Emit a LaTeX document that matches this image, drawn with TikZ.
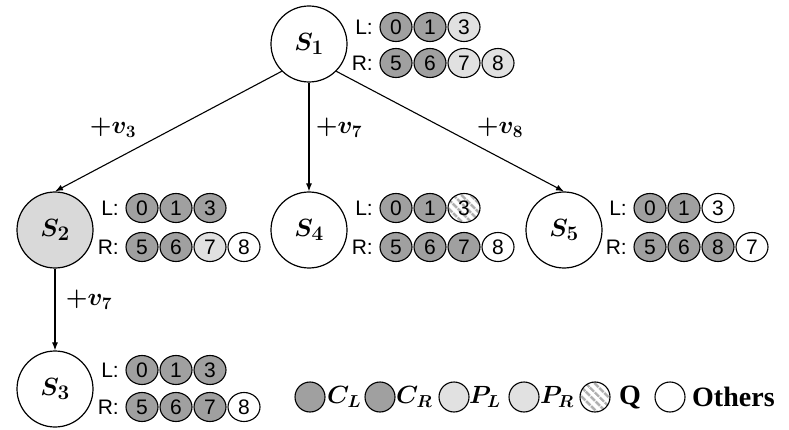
\documentclass[tikz,border=0pt]{standalone}
\usepackage{fontspec}
\usepackage{amsmath,bm}
\setsansfont{Liberation Sans}
\newfontfamily\legserif{Liberation Serif}
\usetikzlibrary{arrows.meta,shapes.geometric,patterns.meta}
\definecolor{cdark}{RGB}{160,160,160}
\definecolor{plight}{RGB}{225,225,225}
\definecolor{sfill}{RGB}{217,217,217}
\definecolor{qline}{RGB}{175,175,175}
\tikzset{
  statenode/.style={circle, draw, line width=1.2pt, minimum size=76pt, inner sep=0pt, font=\fontsize{28}{28}\selectfont},
  ball/.style={ellipse, draw, line width=1.1pt, minimum width=32pt, minimum height=29pt, inner sep=0pt, font=\fontsize{21}{21}\selectfont\sffamily},
  cb/.style={ball, fill=cdark},
  pb/.style={ball, fill=plight},
  ob/.style={ball, fill=white},
  qb/.style={ball, preaction={fill=white}, pattern={Lines[angle=-45,distance=6.5pt,line width=3pt]}, pattern color=qline},
  rowlbl/.style={anchor=east, inner sep=0pt, font=\fontsize{21}{21}\selectfont\sffamily},
  edgelbl/.style={inner sep=0pt, font=\fontsize{26}{26}\selectfont},
  conn/.style={-{Latex[length=8pt,width=6pt]}, line width=1.1pt},
  leg/.style={circle, draw, line width=1.1pt, minimum size=30pt, inner sep=0pt},
  legtxt/.style={anchor=west, inner sep=0pt, font=\fontsize{26}{26}\selectfont},
  legword/.style={anchor=west, inner sep=0pt, font=\fontsize{28}{28}\selectfont\legserif\bfseries}
}
\begin{document}
\begin{tikzpicture}[x=1pt,y=-1pt]
\useasboundingbox (0,0) rectangle (789,430);
% state nodes
\node[statenode] (s1) at (309,44) {$\bm{S_1}$};
\node[statenode, fill=sfill] (s2) at (55,230) {$\bm{S_2}$};
\node[statenode] (s4) at (309,230) {$\bm{S_4}$};
\node[statenode] (s5) at (564,230) {$\bm{S_5}$};
\node[statenode] (s3) at (55,389) {$\bm{S_3}$};
% S1 balls
\node[cb] (a0) at (396,27) {0};
\node[cb] (a1) at (430,27) {1};
\node[pb] (a3) at (464,27) {3};
\node[rowlbl] (aL) at (373,27) {L:};
\node[cb] (a5) at (396,63) {5};
\node[cb] (a6) at (430,63) {6};
\node[pb] (a7) at (464,63) {7};
\node[pb] (a8) at (498,63) {8};
\node[rowlbl] (aR) at (373,63) {R:};
% S2 balls
\node[cb] (b0) at (142,208) {0};
\node[cb] (b1) at (176,208) {1};
\node[cb] (b3) at (210,208) {3};
\node[rowlbl] (bL) at (119,208) {L:};
\node[cb] (b5) at (142,247) {5};
\node[cb] (b6) at (176,247) {6};
\node[pb] (b7) at (210,247) {7};
\node[ob] (b8) at (244,247) {8};
\node[rowlbl] (bR) at (119,247) {R:};
% S4 balls
\node[cb] (c0) at (396,208) {0};
\node[cb] (c1) at (430,208) {1};
\node[qb] (c3) at (464,208) {3};
\node[rowlbl] (cL) at (373,208) {L:};
\node[cb] (c5) at (396,247) {5};
\node[cb] (c6) at (430,247) {6};
\node[cb] (c7) at (464,247) {7};
\node[ob] (c8) at (498,247) {8};
\node[rowlbl] (cR) at (373,247) {R:};
% S5 balls
\node[cb] (d0) at (650,208) {0};
\node[cb] (d1) at (684,208) {1};
\node[ob] (d3) at (718,208) {3};
\node[rowlbl] (dL) at (627,208) {L:};
\node[cb] (d5) at (650,247) {5};
\node[cb] (d6) at (684,247) {6};
\node[cb] (d8) at (718,247) {8};
\node[ob] (d7) at (752,247) {7};
\node[rowlbl] (dR) at (627,247) {R:};
% S3 balls
\node[cb] (e0) at (142,370) {0};
\node[cb] (e1) at (176,370) {1};
\node[cb] (e3) at (210,370) {3};
\node[rowlbl] (eL) at (119,370) {L:};
\node[cb] (e5) at (142,407) {5};
\node[cb] (e6) at (176,407) {6};
\node[cb] (e7) at (210,407) {7};
\node[ob] (e8) at (244,407) {8};
\node[rowlbl] (eR) at (119,407) {R:};
% connectors
\draw[conn] (s1.225) -- (s2.north);
\draw[conn] (s1.south) -- (s4.north);
\draw[conn] (s1.-45) -- (s5.north);
\draw[conn] (s2.south) -- (s3.north);
% edge labels
\node[edgelbl] (l3) at (113,128) {$\bm{+v_3}$};
\node[edgelbl] (l7) at (339,128) {$\bm{+v_7}$};
\node[edgelbl] (l8) at (500,128) {$\bm{+v_8}$};
\node[edgelbl] (l7b) at (89,300) {$\bm{+v_7}$};
% legend
\node[leg, fill=cdark] (g1) at (310,397) {};
\node[legtxt] (t1) at (327,397) {$\bm{C_L}$};
\node[leg, fill=cdark] (g2) at (380,397) {};
\node[legtxt] (t2) at (396,397) {$\bm{C_R}$};
\node[leg, fill=plight] (g3) at (454,397) {};
\node[legtxt] (t3) at (469,397) {$\bm{P_L}$};
\node[leg, fill=plight] (g4) at (524,397) {};
\node[legtxt] (t4) at (540,397) {$\bm{P_R}$};
\node[leg, preaction={fill=white}, pattern={Lines[angle=-45,distance=6.5pt,line width=3pt]}, pattern color=qline] (g5) at (595,397) {};
\node[legword] (t5) at (619,397) {Q};
\node[leg, fill=white] (g6) at (670,397) {};
\node[legword] (t6) at (692,397) {Others};
\end{tikzpicture}
\end{document}
